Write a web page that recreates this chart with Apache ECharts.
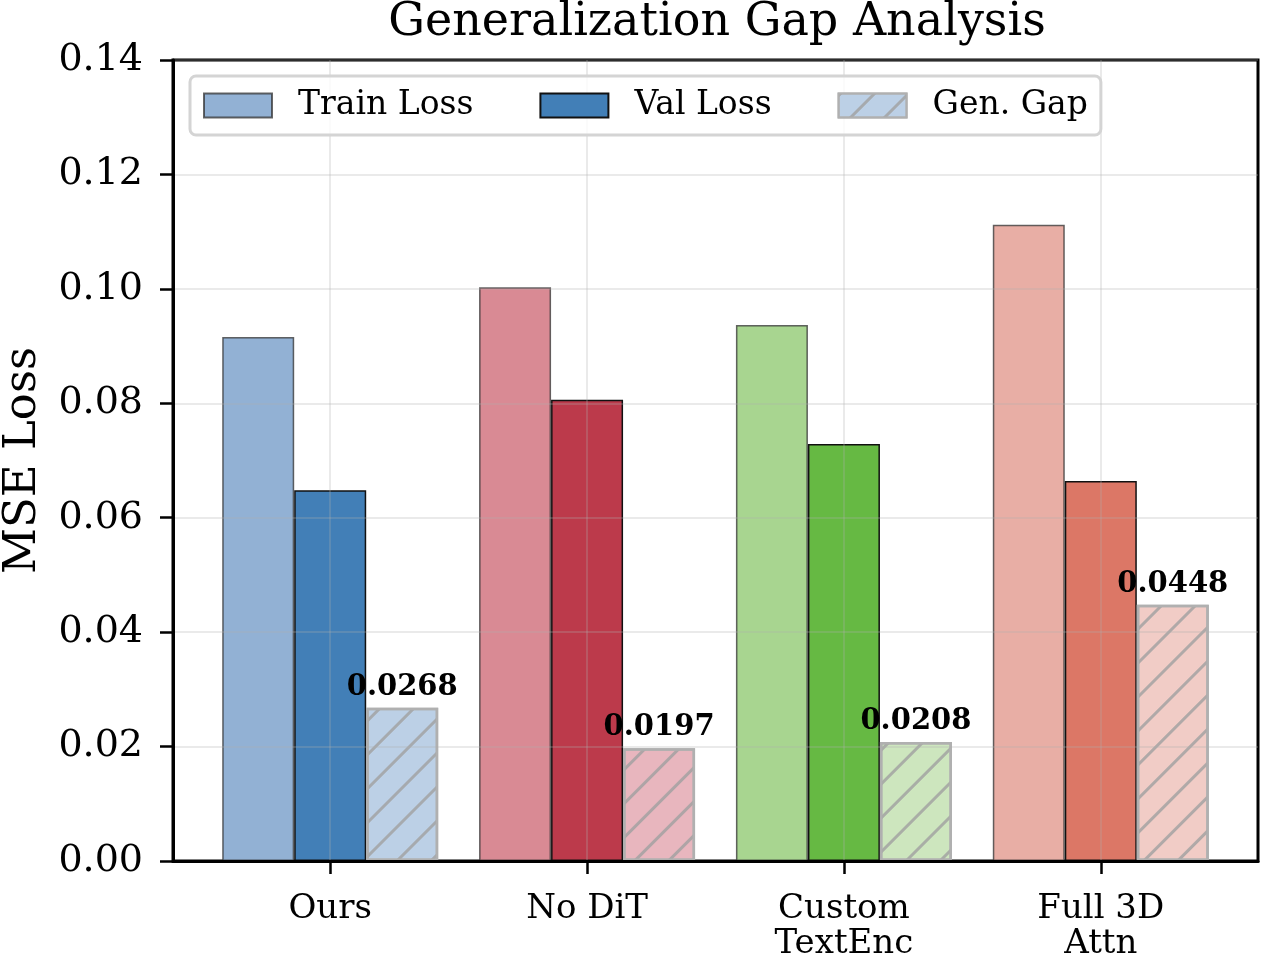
<!DOCTYPE html>
<html>
<head>
<meta charset="utf-8">
<script src="https://cdn.jsdelivr.net/npm/echarts@6/dist/echarts.min.js"></script>
<style>
  html, body { margin: 0; padding: 0; background: #fff; }
  #chart { width: 1261px; height: 954px; }
</style>
</head>
<body>
<div id="chart"></div>
<script>
// data
const categories = ['Ours', 'No DiT', 'Custom\nTextEnc', 'Full 3D\nAttn'];
const trainLoss = [0.0916, 0.1003, 0.0937, 0.1112];
const valLoss = [0.0648, 0.0806, 0.0729, 0.0664];
const genGap = [0.0268, 0.0197, 0.0208, 0.0448];
const yTicks = [0, 0.02, 0.04, 0.06, 0.08, 0.10, 0.12, 0.14];

// per-group colours: train / val / gap
const trainColors = ['#92b1d4', '#d98a94', '#a8d590', '#e8aea5'];
const valColors = ['#427fb7', '#bc3a4b', '#66b943', '#dc7766'];
const gapColors = ['#bcd0e6', '#e8b6be', '#cde6be', '#f1ccc6'];

const FONT = 'DejaVu Serif';
const hatch = {
    symbol: 'rect',
    symbolSize: 1,
    color: 'rgba(160,160,160,0.8)',
    dashArrayX: [1, 0],
    dashArrayY: [2.5, 21],
    rotation: -Math.PI / 4
};

const chart = echarts.init(document.getElementById('chart'));

function pts(vals, colors, extra) {
    return vals.map((v, i) => ({
        value: [i, v],
        itemStyle: Object.assign({ color: colors[i] }, extra || {})
    }));
}

chart.setOption({
    animation: false,
    title: {
        text: 'Generalization Gap Analysis',
        left: 712, textAlign: 'center', top: -5,
        textStyle: { fontFamily: FONT, fontSize: 46, fontWeight: 'normal', color: '#000' }
    },
    legend: {
        left: 190, top: 76,
        padding: [13, 13, 13, 13],
        itemWidth: 68, itemHeight: 24, itemGap: 66,
        icon: 'rect',
        borderColor: '#d4d4d4', borderWidth: 3, borderRadius: 6,
        backgroundColor: 'rgba(255,255,255,0.8)',
        z: 20,
        textStyle: { fontFamily: FONT, fontSize: 33, color: '#000', lineHeight: 26, padding: [0, 0, 0, 21] },
        data: ['Train Loss', 'Val Loss', 'Gen. Gap']
    },
    grid: {
        left: 173, right: 3, top: 60, bottom: 93,
        outerBoundsMode: 'none',
        show: true, borderColor: '#000', borderWidth: 3, backgroundColor: 'transparent'
    },
    xAxis: {
        type: 'value', min: -0.612, max: 3.612, z: 5,
        axisLine: { show: true, onZero: false, lineStyle: { color: '#000', width: 3 } },
        axisTick: { show: true, customValues: [0, 1, 2, 3], length: 13, lineStyle: { color: '#000', width: 2.5 } },
        axisLabel: {
            customValues: [0, 1, 2, 3],
            formatter: v => categories[Math.round(v)],
            fontFamily: FONT, fontSize: 34, color: '#000', margin: 31, lineHeight: 35
        },
        splitLine: { show: true, lineStyle: { color: 'rgba(176,176,176,0.35)', width: 1.5 } }
    },
    yAxis: {
        type: 'value', min: 0, max: 0.14, interval: 0.02, z: 5,
        name: 'MSE Loss', nameLocation: 'middle', nameGap: 127,
        nameTextStyle: { fontFamily: FONT, fontSize: 45, color: '#000' },
        axisLine: { show: true, onZero: false, lineStyle: { color: '#000', width: 3 } },
        axisTick: { show: true, length: 13, lineStyle: { color: '#000', width: 2.5 } },
        axisLabel: {
            formatter: v => v.toFixed(2),
            fontFamily: FONT, fontSize: 38, color: '#000', margin: 30
        },
        splitLine: { show: true, lineStyle: { color: 'rgba(176,176,176,0.35)', width: 1.5 } }
    },
    series: [
        {
            name: 'Train Loss', type: 'bar', barWidth: 72, barGap: '0%',
            itemStyle: { color: trainColors[0], borderColor: 'rgba(50,50,50,0.75)', borderWidth: 1.5 },
            data: pts(trainLoss, trainColors)
        },
        {
            name: 'Val Loss', type: 'bar', barWidth: 72, barGap: '0%',
            itemStyle: { color: valColors[0], borderColor: '#111', borderWidth: 1.5 },
            data: pts(valLoss, valColors)
        },
        {
            name: 'Gen. Gap', type: 'bar', barWidth: 72, barGap: '0%',
            itemStyle: { color: gapColors[0], borderColor: '#b0b0b0', borderWidth: 2.5, decal: hatch },
            label: {
                show: true, position: 'top', distance: 6,
                formatter: p => p.value[1].toFixed(4),
                fontFamily: FONT, fontSize: 29, fontWeight: 'bold', color: '#000'
            },
            data: pts(genGap, gapColors, { decal: hatch })
        }
    ]
});
</script>
</body>
</html>
